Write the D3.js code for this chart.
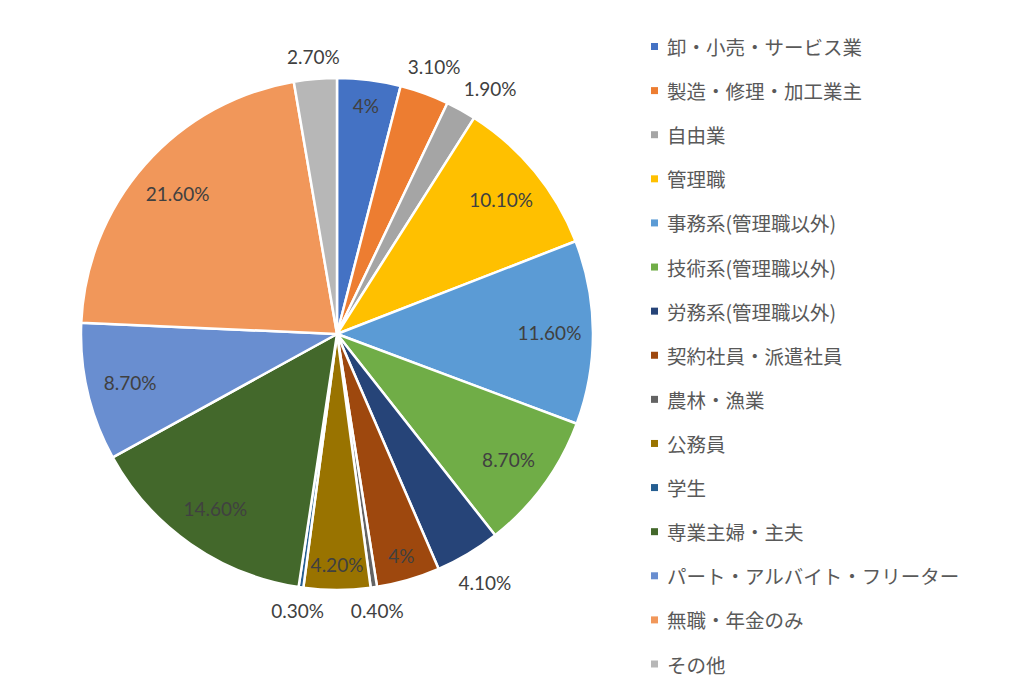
<!DOCTYPE html>
<html>
<head>
<meta charset="utf-8">
<script src="https://cdn.jsdelivr.net/npm/d3@7"></script>
<style>
  body { margin: 0; background: #fff; }
</style>
</head>
<body>
<div id="chart"></div>
<script>
// 職業別の構成比 (%)
const categories = [
  '卸・小売・サービス業', '製造・修理・加工業主', '自由業', '管理職',
  '事務系(管理職以外)', '技術系(管理職以外)', '労務系(管理職以外)',
  '契約社員・派遣社員', '農林・漁業', '公務員', '学生', '専業主婦・主夫',
  'パート・アルバイト・フリーター', '無職・年金のみ', 'その他'
];
const values = [4, 3.1, 1.9, 10.1, 11.6, 8.7, 4.1, 4, 0.4, 4.2, 0.3, 14.6, 8.7, 21.6, 2.7];
const colors = [
  '#4472C4', '#ED7D31', '#A5A5A5', '#FFC000', '#5B9BD5', '#70AD47', '#264478',
  '#9E480E', '#636363', '#997300', '#255E91', '#43682B', '#698ED0', '#F1975A', '#B7B7B7'
];
// which data labels Excel put outside the pie
const labelOutside = [false, true, true, false, false, false, true, false, true, false, true, false, false, false, true];

const width = 1024;
const height = 683;
const cx = 337, cy = 334, radius = 256;

const svg = d3.select('#chart')
  .append('svg')
  .attr('width', width)
  .attr('height', height);

const pie = d3.pie().sort(null).value(d => d);
const arcs = pie(values);

const arc = d3.arc().innerRadius(0).outerRadius(radius);

const groupPie = svg.append('g')
  .attr('transform', `translate(${cx}, ${cy})`);

groupPie.selectAll('.slice')
  .data(arcs)
  .enter()
  .append('path')
  .attr('class', 'slice')
  .attr('d', arc)
  .attr('fill', (d, i) => colors[i])
  .attr('stroke', '#fff')
  .attr('stroke-width', 2.5)
  .attr('stroke-linejoin', 'round');

const fmt = v => Number.isInteger(v) ? v + '%' : v.toFixed(2) + '%';

// label positions; outside labels get nudged clockwise if they bump into the previous one
const boxW = 54, boxH = 22;
const placed = [];
const positions = arcs.map((d, i) => {
  let a = (d.startAngle + d.endAngle) / 2;
  if (!labelOutside[i]) {
    const dist = radius * (d.data >= 8 ? 0.83 : 0.9);
    return [Math.sin(a) * dist, -Math.cos(a) * dist];
  }
  const at = ang => {
    const dist = radius + 20 + 25 * Math.abs(Math.sin(ang));
    return [Math.sin(ang) * dist, -Math.cos(ang) * dist];
  };
  let p = at(a);
  const hits = q => placed.some(o => Math.abs(o[0] - q[0]) < boxW && Math.abs(o[1] - q[1]) < boxH);
  while (hits(p)) {
    a += Math.PI / 360;
    p = at(a);
  }
  placed.push(p);
  return p;
});

groupPie.selectAll('.label')
  .data(arcs)
  .enter()
  .append('text')
  .attr('class', 'label')
  .attr('x', (d, i) => positions[i][0])
  .attr('y', (d, i) => positions[i][1])
  .attr('text-anchor', 'middle')
  .attr('dominant-baseline', 'central')
  .attr('font-family', 'Lato, "Open Sans", sans-serif')
  .attr('font-size', 19)
  .attr('fill', '#404040')
  .text(d => fmt(d.data));

// legend
const legendY = d3.scalePoint()
  .domain(categories)
  .range([46.5, 664]);

const legend = svg.append('g').attr('class', 'legend');

const items = legend.selectAll('.item')
  .data(categories)
  .enter()
  .append('g')
  .attr('class', 'item')
  .attr('transform', d => `translate(651, ${legendY(d)})`);

items.append('rect')
  .attr('x', 0)
  .attr('y', -3.5)
  .attr('width', 7)
  .attr('height', 7)
  .attr('fill', (d, i) => colors[i]);

items.append('text')
  .attr('x', 16)
  .attr('y', 0)
  .attr('dominant-baseline', 'central')
  .attr('font-family', '"Noto Sans CJK JP", sans-serif')
  .attr('font-size', 19.5)
  .attr('fill', '#595959')
  .text(d => d);
</script>
</body>
</html>
